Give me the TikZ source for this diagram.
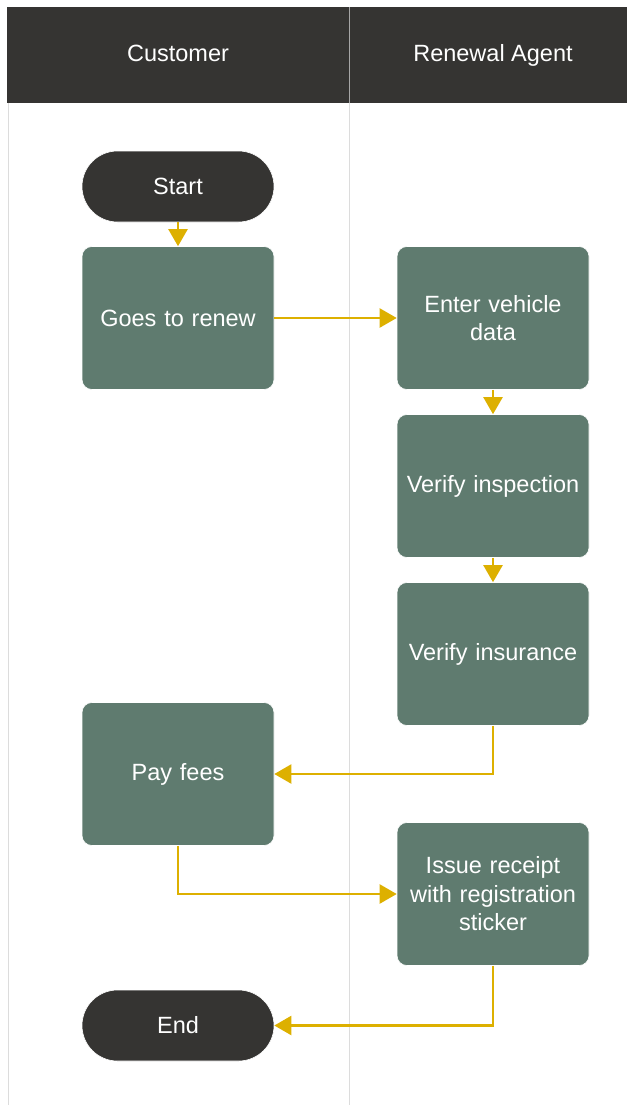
\documentclass[tikz,border=0pt]{standalone}
\usepackage{fontspec}
\setmainfont{Liberation Sans}
\usetikzlibrary{arrows.meta}
\definecolor{hdr}{HTML}{353432}
\definecolor{proc}{HTML}{5F7B6F}
\definecolor{flow}{HTML}{DDB000}
\definecolor{lane}{HTML}{DCDCDC}
\tikzset{
  x=1pt, y=-1pt,
  txt/.style={text=white, font=\fontsize{23.5}{28.5}\selectfont, align=center},
  procbox/.style={txt, fill=proc, draw=white, line width=0.6pt, rounded corners=10pt,
    minimum width=192pt, minimum height=143pt, text width=186pt, inner sep=0pt},
  terminal/.style={txt, fill=hdr, draw=white, line width=0.6pt, rounded corners=35.5pt,
    minimum width=192pt, minimum height=71pt, inner sep=0pt},
  flowline/.style={draw=flow, line width=2.2pt, -{Triangle[length=17pt,width=19pt]}},
}
\begin{document}
\begin{tikzpicture}
\useasboundingbox (0,0) rectangle (627,1105);
% lanes
\draw[lane, line width=1pt] (8,103) -- (8,1105);
\draw[lane, line width=1pt] (349,103) -- (349,1105);
% header band
\fill[hdr] (7,7) rectangle (627,103);
\draw[gray!70, line width=0.8pt] (349,7) -- (349,103);
\node[txt, anchor=base] (hcust) at (178,62) {Customer};
\node[txt, anchor=base] (hagent) at (493,62) {Renewal Agent};
% steps
\node[terminal] (start) at (178,186.5) {Start};
\node[procbox] (goes) at (178,318) {Goes to renew};
\node[procbox] (enter) at (493,318) {Enter vehicle\\data};
\node[procbox] (insp) at (493,486) {Verify inspection};
\node[procbox] (ins) at (493,654) {Verify insurance};
\node[procbox] (pay) at (178,774) {Pay fees};
\node[procbox] (issue) at (493,894) {Issue receipt\\with registration\\sticker};
\node[terminal] (end) at (178,1025.5) {End};
% flow
\draw[flowline] (start) -- (goes);
\draw[flowline] (goes) -- (enter);
\draw[flowline] (enter) -- (insp);
\draw[flowline] (insp) -- (ins);
\draw[flowline] (ins.south) |- (pay.east);
\draw[flowline] (pay.south) |- (issue.west);
\draw[flowline] (issue.south) |- (end.east);
\end{tikzpicture}
\end{document}
